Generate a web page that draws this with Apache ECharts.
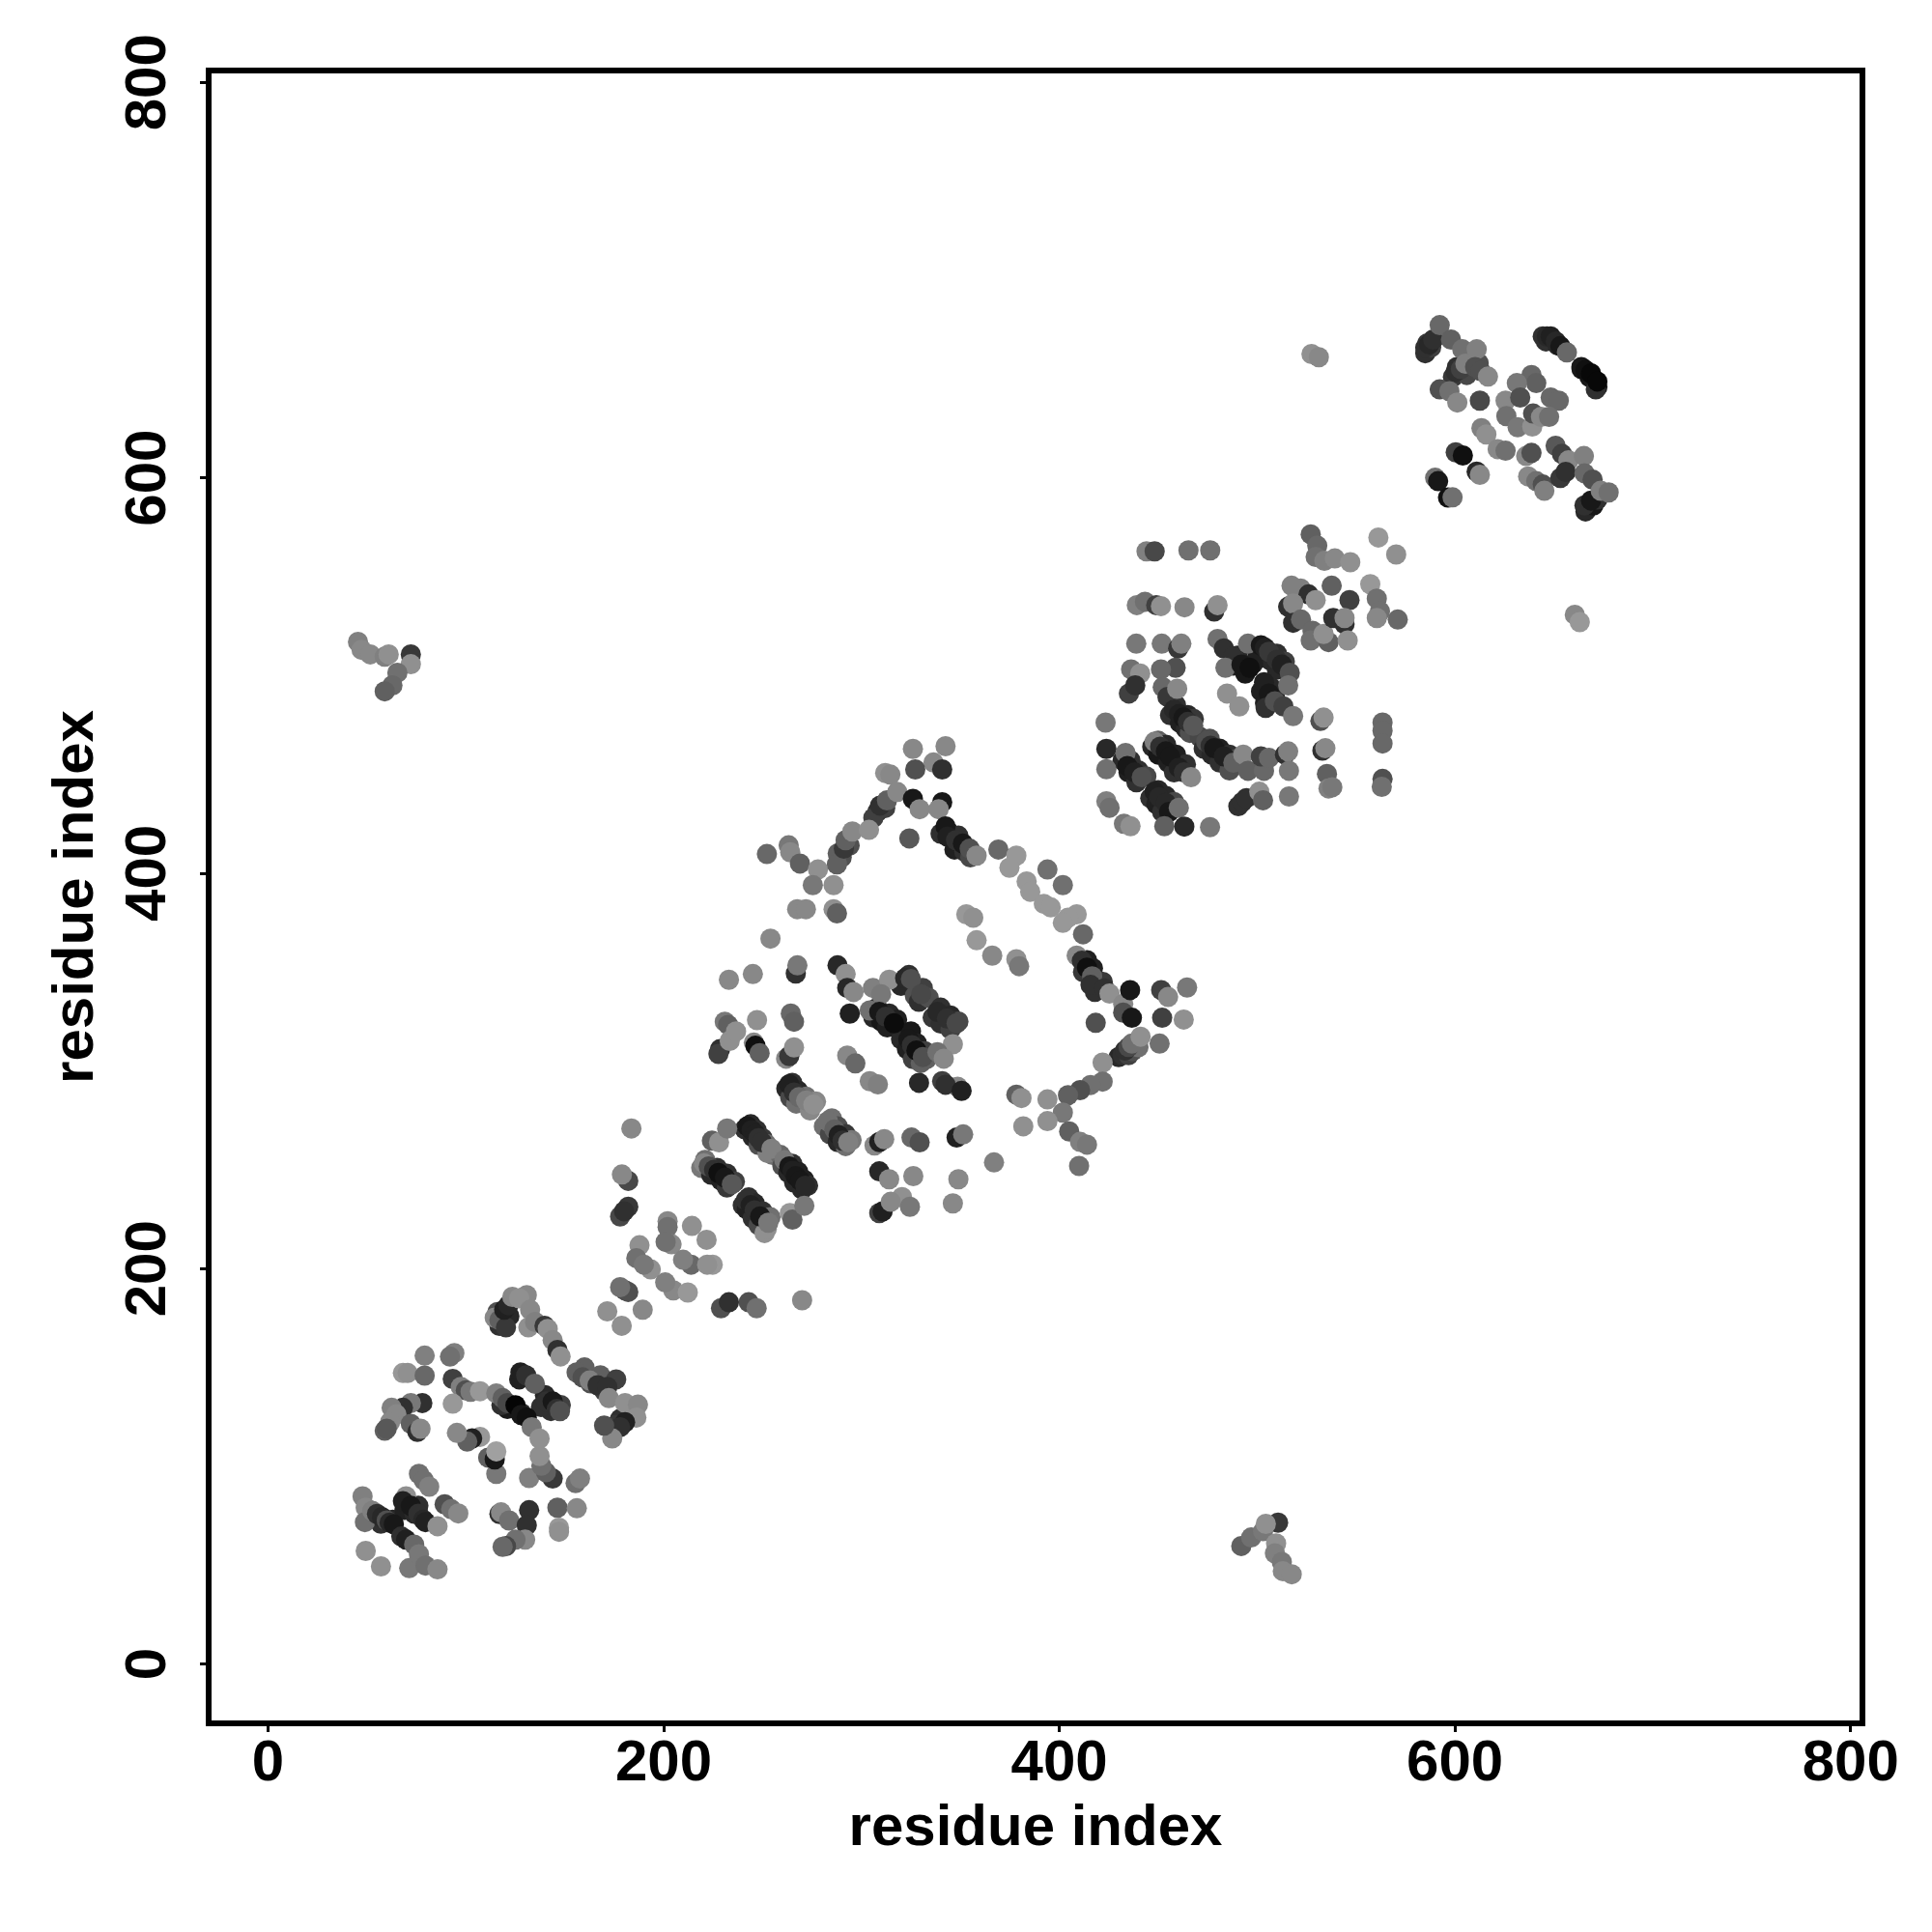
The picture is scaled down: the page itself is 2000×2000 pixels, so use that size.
<!DOCTYPE html>
<html><head><meta charset="utf-8">
<style>html,body{margin:0;background:#fff}#c{width:2000px;height:2000px}</style>
<script src="https://cdn.jsdelivr.net/npm/echarts@6/dist/echarts.min.js"></script></head>
<body><div id="c"></div>
<script>
const tickValues=[0,200,400,600,800];
const axisTitle="residue index";
// each contact: [residue i, residue j, grey level]
const strandEdges=[
[241,270.5,0x30],[244,273,0x28],[247,270,0x30],[245,266.5,0x28],[250,266,0x38],[248,262.5,0x50],[252,263,0x70],[255,257.5,0x70],[252.5,258.5,0x80],[259,257.5,0x68],[260,252,0x50],[265,253,0x30],[263,248.5,0x28],[268,249,0x20],[266,243.5,0x28],[271,245,0x20],[270,240,0x28],[273,242,0x30],
[219,251,0x78],[221,255,0x70],[224,247.5,0x28],[227,251,0x30],[229,244.5,0x20],[232,248,0x30],[232,241,0x38],[236,244,0x40],[240,232,0x30],[243,236,0x30],[242,230,0x20],[246,233,0x28],[245,225.5,0x30],[250,229,0x30],[248,222,0x48],[254,226,0x70],[251,218,0x90],
[262,291,0x28],[265,294,0x30],[264,286.5,0x48],[268,290,0x28],[267,283.5,0x70],[272,287,0x70],[274,280,0x88],[277,284.5,0x88],[281,272,0x70],[285,276,0x70],[284,268,0x48],[288,272,0x50],[288,264,0x28],[292,268,0x38],[292,262,0x70],[295,265,0x78],
[306,327,0x28],[308,332,0x30],[310,325,0x18],[314,329,0x28],[313,322,0x20],[318,326,0x20],[320,316,0x28],[325,320,0x18],[323,311,0x20],[328,314,0x20],[326,306,0x40],[332,310,0x40],[330,304,0x60],[333,306,0x60],
[320,343,0x28],[324,348.5,0x30],[327,338,0x50],[331,342,0x40],[329,335,0x30],[334,337,0x50],[336,327,0x38],[340,332,0x30],[340,324,0x30],[345,328,0x28],[345,321,0x40],[349,325,0x48],
[456,480,0x30],[459,485,0x30],[461,476,0x20],[465,480,0x28],[464,473,0x28],[468,478,0x38],[466,471,0x50],[471,469,0x48],[473,463,0x30],[476,468,0x50],[477,460,0x28],[481,463,0x20],[481,456,0x30],[486,460,0x30],[486,452,0x50],[490,458,0x48],
[432,457,0x28],[436,457,0x30],[435,451,0x20],[440,452,0x30],[439,446,0x30],[444,449,0x48],[447,464,0x28],[450,467,0x60],[450,460,0x18],[454,465,0x28],[455,456,0x20],[459,460,0x20],[458,451,0x30],[464,455,0x30],[446,438,0x30],[450,442,0x28],[449,435,0x20],[454,439,0x28],[452,431,0x30],[458,436,0x48],
[500,512,0x20],[506,508,0x28],[510,511,0x30],[510,503,0x28],[514,507,0x40],[502,492,0x20],[507,494,0x28],[504,486,0x20],[509,489,0x28],[488,505,0x20],[490,510,0x28],[494,501,0x18],[498,506,0x20],
[646,669,0x30],[652,667,0x28],[664,655,0x18],[668,651,0x18],[672,646,0x18],[585,663,0x30],[588,666,0x40],[586,668,0x38],[666,583,0x28],[670,586,0x18],[672,589,0x30],[599,651,0x38],[601,656,0x30],[606,652,0x48],[612,658,0x50],
[414,356,0x20],[417,352,0x20],[412,350,0x38],[419,346,0x28],[422,345,0x38],[418,340,0x30],[344,421,0x18],[340,420,0x30],[347,412,0x20],[352,411,0x30],[349,419,0x30],[355,408,0x48],[308,431,0x30],[306,428,0x40],[312,433,0x40],[290,408,0x50],[288,410,0x60],[294,414,0x50],[430,307,0x28],[432,308,0x30],[435,308,0x40],[437,310,0x50],[440,312,0x70],
[121,129,0x18],[128,127,0x30],[118,131,0x30],[57,71,0x30],[63,73,0x28],[69,78,0x20],[74,76,0x28],[76,80,0x30],[140,136,0x28],[143,128,0x30],[138,130,0x30],[148,131,0x40],[127,144,0x20],[163,142,0x50],[168,146,0x60],[160,150,0x60],[170,138,0x40],[176,144,0x40],[178,124,0x30],[182,125,0x30],[176,121,0x38],[119,175,0x30],[116,178,0x50],[117,171,0x30],[122,176,0x28]
];
const domainA=[
[47.8,84.8,0x80],[49.4,79.1,0x88],[49,71.8,0x70],[52.7,77.5,0x80],[55.1,75.9,0x30],[57.6,74.3,0x28],[60,72.6,0x50],[61.5,71.5,0x28],[63.6,70.7,0x18],
[49.4,57.2,0x90],[57.1,49.4,0x90],[71.4,48.5,0x78],[67.4,64.5,0x30],[69.8,62.9,0x20],[73.9,60.4,0x68],[76.3,55.5,0x78],[79.6,49.8,0x70],[85.7,47.9,0x88],
[69.8,84.8,0x90],[68.2,82.4,0x20],[72.2,80,0x18],[76,76,0x30],[78.5,73,0x28],[79.6,71.8,0x20],[85.7,69.7,0x90],
[76.3,96.2,0x70],[78.7,93,0x70],[81.5,89.7,0x80],[89.3,80.8,0x50],[92.6,78.3,0x70],[96.2,76.2,0x88],
[117,75.9,0x30],[117.8,76.7,0x88],[121.9,72.6,0x70],[132,77.8,0x30],[130.8,70.2,0x30],[130,62.9,0x88],[125.1,62.9,0x70],[120.3,59.6,0x48],[118.6,59.3,0x68],
[146.3,79.1,0x60],[156.1,78.8,0x88],[147.1,69,0x98],[147.1,66.9,0x90],[155.5,91.5,0x70],[157.7,93.8,0x80],[143.9,93.8,0x38],[132,94.1,0x80],[140.5,97,0x60],[138.2,100.3,0x70],[137.3,105.2,0x90],
[115.4,96.2,0x78],[111.3,104.4,0x60],[114.6,103.5,0x18],[115.4,107.6,0xa0],[107.2,114.9,0x98],[103.2,114.1,0x20],[100.7,112.5,0x60],[95.5,116.9,0x88],
[93.4,144.2,0x40],[97.5,140.2,0x80],[100,138.5,0x50],[102.4,137.7,0x78],[107.2,138,0x98],[93.4,131.7,0x98],
[79.2,156,0x80],[94.2,157.3,0x80],[92,155.5,0x70],[68.2,147.2,0x98],[70.6,147.2,0x90],[79.2,145.9,0x68],
[78,132,0x30],[72.2,132,0x78],[68.2,129.6,0x30],[62.5,129.6,0x80],[64.9,126.3,0x88],[61.7,122.3,0x88],[59,118,0x60],[60,119,0x58],[72.2,121.5,0x60],[75.5,117.4,0x30],[77.1,119,0x88],
[115.4,136.9,0x80],[118.6,134.5,0x60],[121,132,0x48],[125.1,130.9,0x05],[128,126,0x18],[130.8,124.7,0x10],[133.3,119.8,0x78],[137.3,114,0x90],
[127.6,147.5,0x20],[130.5,146,0x30],[134.9,141.8,0x60],[140.6,132.8,0x30],[143.9,132.8,0x18],[146,129,0x30],[147.6,127.9,0x50],
[114.6,175.2,0x88],[117,174,0x60],[120.3,170.3,0x38],[119.4,179.2,0x20],[121.5,181.5,0x28],[123.5,185.7,0x88],[130.8,186.6,0x88],[127,185,0x90],[132.5,179.2,0x88],[131.6,170.3,0x90],[135,173,0x80],[139.8,171.1,0x38],[141.4,169.5,0x90],[143.9,163.8,0x88],[146.3,158.9,0x30],[147.9,155.6,0x90],
[156,147.5,0x60],[159,145,0x50],[162.6,143.4,0x80],[166.6,141,0x30],[171.5,140.2,0x30],[172.3,134.5,0x88],[180.5,132,0x90],[187,131.2,0x88],[186.2,124.7,0x90],[180.5,122.3,0x20],[178,119.8,0x30],[174,114.1,0x88],[169.9,120.6,0x50],
[171.5,178.4,0x90],[178.8,171.1,0x90],[180.5,189,0x50],[182.1,188.2,0x50],[178,190.6,0x70],[189.4,179.2,0x88]
];
const domainB=[
[202,224,0x88],[202,221,0x70],[214.3,221.6,0x90],[221.7,214.6,0x90],[187.8,211.8,0x90],[186.2,205.3,0x70],[193.5,199.6,0x90],[190,202,0x78],[204,212.3,0x88],[201,213.5,0x70],[213.9,202,0x68],[209.8,204.5,0x80],[224.8,202,0x98],[222,202,0x90],[204.9,189,0x88],[212.2,187.9,0x98],[200.8,193,0x80],
[182.1,244.4,0x48],[178.9,247.6,0x88],[182.1,231.3,0x38],[178,226.4,0x48],[180,229,0x30],[183.7,270.9,0x88],
[220.4,253.3,0x88],[222.8,251.7,0x50],[225.5,250,0x30],[227.7,248.4,0x10],[231,246,0x18],[234.5,242.7,0x58],
[252.1,220,0x90],[241.5,234.6,0x30],[244,232.1,0x20],[246,229.5,0x30],[248.8,226.4,0x18],[252.9,223.2,0x78],
[242.3,272,0x18],[244.5,270,0x20],[246.4,268,0x20],[248,266,0x30],[249.7,263.9,0x30],[254.5,260.6,0x80],[261,254.9,0x78],[263.5,251.7,0x18],[265.2,249.5,0x20],[266.8,246.8,0x18],[269,244.5,0x18],[271.6,241.9,0x28],
[224.4,264.7,0x60],[228,263.9,0x90],[232.1,270.9,0x78],[263.8,228.1,0x98],[265.1,224.8,0x60],[271.1,231.8,0x78],
[254,366.9,0x88],[233,346.1,0x88],[245.1,349,0x88],[266.8,349.3,0x30],[267.6,353.4,0x78],
[230.9,324.9,0x78],[232.6,323.3,0x60],[228.5,311,0x30],[227.7,308.6,0x40],[233.4,315.2,0x90],[236.6,320,0x90],[245.6,314.3,0x88],[246.4,312.7,0x10],[248.5,309,0x60],[247.2,325.7,0x90],[264.3,329,0x68],[265.9,324.9,0x60],[261.9,306.2,0x88],[263.5,307.5,0x38],[265.9,311.9,0x90],
[263.5,293.2,0x20],[265.9,289.1,0x30],[268.4,286.7,0x68],[272,285,0x80],[275.7,282.9,0x90],[283,274.5,0x70],[286.3,270.4,0x60],[288.5,267.5,0x20],[290.4,264.7,0x30],[293.3,263.9,0x80],
[287.9,353.4,0x28],[292,349,0x90],[292.8,342,0x28],[296,339.9,0x88],[294.1,329,0x20],[305.8,342,0x80],[314,346.1,0x90],[309.9,338.8,0x78],
[304.2,330.6,0x70],[309,329.8,0x18],[312.3,327.4,0x30],[316.4,324.1,0x0c],[323.7,316,0x18],[325.5,313,0x30],[327.8,310.3,0x10],[331,307,0x50],
[322.1,346.9,0x28],[325,346.5,0x50],[330.2,338.8,0x48],[338.4,329.8,0x28],[343.2,326.5,0x30],[348.1,324.1,0x48],[346.2,313.5,0x90],[338.4,309.5,0x70],[341.6,306.2,0x88],
[292.8,307.8,0x88],[296.9,303.8,0x68],[304.2,294.8,0x88],[308.3,293.2,0x80],[348.6,292,0x88],[329.1,294,0x28],[340.8,294.8,0x40],[342.5,293,0x30],[350.6,289.9,0x20],
[306.6,262.3,0x88],[309,264,0x20],[311.5,265.5,0x88],[325.3,266.3,0x68],[329.4,263.9,0x50],[348.1,266.3,0x20],[351.4,267.9,0x78],
[309,249.2,0x28],[314,245.2,0x88],[326.2,246.8,0x88],[349,245.2,0x88],[346.2,233,0x88],[320.5,236.2,0x90],[324.5,231.3,0x78],[309,228.1,0x40],[310.7,228.9,0x20],[314.8,233.8,0x88],
[229,180,0x50],[233,183,0x30],[243,183,0x50],[247,180,0x70],[270,184,0x88]
];
const domainC=[
[326,462.9,0x88],[342.5,464.2,0x88],[336.4,456,0x88],[340.8,452.5,0x30],[327.2,452.5,0x50],[312,450.7,0x90],[314.6,449.9,0x88],
[309.4,434.2,0x30],[312.9,436.8,0x60],[318.1,441.1,0x88],[326,437.6,0x18],[329.4,432.4,0x88],[340.8,435.9,0x18],[339,432.4,0x88],[342.5,423.7,0x18],[343.4,418.5,0x20],[347.8,416.7,0x30],[351.3,415,0x18],[354.7,412.4,0x50],[358.2,408.9,0x88],[324.2,417.6,0x58],
[369.2,412,0x68],[378.3,408.9,0x98],[374.8,402.8,0x98],[383.5,395.8,0x98],[385.3,390.6,0x98],[392.2,384.5,0x98],[395.7,382.7,0x98],[408.8,379.2,0x98],[404.4,377.5,0x98],[401.8,374.9,0x98],[394,401.9,0x70],[401.8,394,0x70],[412,369.1,0x68],
[353,379.2,0x98],[356.5,377.5,0x90],[358.2,366.1,0x98],[366.1,358.3,0x88],[378.3,356.5,0x90],[379.7,353,0x78],
[408.8,358.3,0x88],[411.4,355.7,0x30],[414,352.2,0x10],[416.6,347.8,0x60],[415.8,343.5,0x30],[422.8,341.7,0x30],[425.4,339.1,0x90],[432.3,333.9,0x88],[435.8,340.9,0x18],[432.3,329.5,0x50],[436.7,326.9,0x18],[418.4,324.3,0x50],
[451.5,340.9,0x40],[464.6,342.2,0x78],[455,337.4,0x88],[452,326.9,0x40],[462.9,326,0x90],[450.7,313.8,0x70],[433.2,310.3,0x30],[435,312.1,0x48],[436.7,313.8,0x70],[441.1,317.3,0x90],
[421.9,304.2,0x90],[421.9,294.6,0x70],[415.8,292.9,0x70],[410.5,290.3,0x50],[404.4,287.7,0x60],[401.8,278.9,0x78],[394,285.6,0x90],[394,274.6,0x90],[381.8,272,0x90],[378.3,288,0x60],[380.9,286.3,0x90],[405,269.4,0x60],[410.5,264.1,0x80],[414,262.7,0x78],[410,251.9,0x70],[367,253.7,0x80],
[252.2,409.7,0x68],[263.2,414.1,0x78],[264,410.6,0x88],[268.9,404.9,0x60],[278,401.9,0x90],[285.9,394,0x90],[275.4,394,0x78],[267.5,381.8,0x88],[271.9,381.8,0x88],[285.9,381.8,0x90],[287.6,379.7,0x60],[287.6,404.5,0x60],[291.1,412.4,0x38],[292,416.7,0x60],[295.4,421.1,0x88],[303.8,421.9,0x90]
];
const domainD=[
[444.1,562.8,0x80],[448.2,562.8,0x48],[465.3,563.3,0x70],[476.3,563.3,0x70],
[439.2,535.6,0x80],[443.3,537.3,0x70],[449,535.6,0x40],[451.4,535.1,0x90],[463.3,534.5,0x88],[478.3,532.4,0x30],[480,535.6,0x90],
[438.9,516.1,0x78],[451.8,516.1,0x78],[460.1,513.7,0x38],[461.7,516.1,0x80],[458.8,503.9,0x50],[436.3,503.1,0x70],[440.9,501,0x90],[435.2,490.9,0x40],[438.4,495,0x30],[451.4,503.1,0x68],[452.3,494.1,0x68],[454.7,489.2,0x38],[459.6,493.3,0x88],
[458,482.7,0x28],[460.5,480.5,0x20],[462.8,478.7,0x18],[465,476.5,0x30],[467.7,474.6,0x58],[474.2,466.5,0x50],[476.5,464.5,0x30],[478.3,463.2,0x18],[483.2,459.1,0x20],[488,455.9,0x60],[493,460,0x88],[495.4,451.8,0x60],[503.5,451.8,0x68],[501.9,459.1,0x40],[506,458.3,0x68],[514.1,460,0x30],[515.7,461.6,0x80],[516.1,451.8,0x78],[516.1,438.8,0x78],
[423.4,476.2,0x78],[423.8,462.9,0x28],[423.8,452.6,0x70],[433.5,460.8,0x70],[434.4,454.2,0x18],[438,451,0x20],[441.7,448.6,0x50],
[448.2,466.5,0x80],[451,464,0x30],[453.9,461.6,0x18],[456,459,0x18],[460.4,453.4,0x20],[463,451,0x30],[466.6,448.6,0x88],
[448.2,441.2,0x20],[450.5,438.5,0x28],[453.9,435.5,0x28],[455.5,431,0x18],[460.4,433.1,0x70],
[423.8,436.4,0x80],[425.4,433.1,0x70],[432.7,425,0x78],[436,423.8,0x90],[453.1,423.8,0x60],[463.2,423.6,0x28],[476.2,423.3,0x78],
[490.5,433.9,0x30],[492.5,436,0x30],[494.6,438,0x30],[501.1,441.2,0x90],[503,436.9,0x60],
[532,477,0x50],[533.6,478.7,0x90],[533,462,0x30],[534.5,463.2,0x88],[535.3,450.2,0x60],[536.1,442.9,0x80],[538,443.5,0x78],[563.4,476.2,0x68],[563.4,472,0x68],[563.4,465.6,0x68],[563.4,447.7,0x50],[563,443.7,0x70],
[484.8,490.9,0x90],[491,484.4,0x90],
[480,518.5,0x70],[483.2,513.7,0x30],[488,509.6,0x30],[484,503.9,0x70],[492.1,505.5,0x18],[496.2,503.9,0x10],[495.4,516.1,0x70],[501.9,515.3,0x18],[504,514,0x20],[506,512,0x38],[510,508,0x30],[512.5,505.5,0x20],[516.5,501.4,0x50],[515.7,495,0x70],[503.5,496.6,0x20],[506,490.9,0x18],[504.3,483.6,0x30],[509,487,0x50],[513.3,484.4,0x40],[518.2,479.5,0x78]
];
const domainE=[
[527.1,571.4,0x60],[530.4,565.7,0x68],[529.6,560,0x70],[534,558,0x80],[539.3,559.2,0x88],[547.1,557.3,0x90],[561.3,569.8,0x98],[570.3,561.2,0x90],
[517.4,545.4,0x80],[522,544,0x80],[526,541,0x30],[529.6,538.1,0x90],[537.7,545.4,0x60],[546.7,538.1,0x40],[557.2,546.2,0x98],[560.5,538.9,0x70],[562.1,532.4,0x70],[560.5,529.1,0x88],[571.1,528.3,0x68],[515.7,534.8,0x30],[518.2,536.4,0x88],[518.2,526.7,0x30],[522.2,528.3,0x68],[528,522.6,0x68],[527.1,517.7,0x70],[536.1,516.9,0x60],[533.6,521,0x90],[538.5,529.1,0x30],[544.2,526,0x30],[544.2,529.1,0x88],[545.8,517.7,0x90],
[527.5,662.6,0x90],[531.2,661,0x88],[660.6,530.7,0x88],[663.1,527,0x98],
[585,665.8,0x30],[587,667.5,0x28],[589,669.9,0x30],[592.3,677.2,0x68],[598,669.9,0x60],[603.7,665,0x70],[611,665,0x80],
[600.4,653.6,0x30],[603,655,0x40],[605.3,657.7,0x80],[610.2,656,0x50],[613,654,0x50],[616.7,651.2,0x88],
[592.3,644.7,0x50],[597.2,643.8,0x70],[601.2,638.1,0x88],[612.6,639,0x48],
[638.7,652,0x68],[641.1,647.9,0x60],[631.3,647.9,0x78],[625.6,639,0x88],[633,640.6,0x50],[648.4,640.6,0x68],[652.5,639,0x68],[626,631.2,0x70],[631.7,625.6,0x78],[639.1,625.9,0x90],[639.5,632.5,0x50],[643.5,630.8,0x88],[647.6,630.8,0x70],
[613.4,625.1,0x80],[615.9,621.9,0x90],[621.6,614.5,0x88],[625.6,613.7,0x70],[636,611,0x88],[638.7,612.6,0x50],
[600.4,612.9,0x40],[604,611.3,0x10],[611,603.1,0x28],[612.6,601.5,0x88],[590,600,0x70],[591.5,598.3,0x18],[596.5,590,0x10],[598.8,590.1,0x70],
[637,600.7,0x88],[641.1,598.3,0x70],[644.4,596.6,0x50],[645.2,593.4,0x80],
[650.9,616.2,0x58],[654.1,612.1,0x40],[657.4,608.8,0x88],[665.2,611,0x80],[653.3,599.9,0x38],[656,603,0x30],[665.5,602.3,0x68],[669.6,599.1,0x50],[665.5,586,0x30],[668.8,588.5,0x18],[673.7,593.4,0x80],[677.7,592.6,0x70],
[644.4,671.5,0x30],[646.5,671.5,0x28],[648.4,671.5,0x20],[651,669,0x28],[653.3,666.6,0x18],[656.6,663.4,0x68],[663.9,656,0x18],[666,654.5,0x10],[668.8,652.8,0x08],[671.2,644.7,0x30],[672,648.7,0x08]
];
const offDiagonal=[
[45.5,517,0x80],[47.3,513,0x88],[51.7,510.7,0x88],[59,509.5,0x80],[61,510.7,0x90],[72.2,510.7,0x38],[72.2,505.7,0x90],[65.4,501.4,0x70],[62.9,495,0x68],[59,492,0x60],
[492,59.7,0x60],[497,64,0x70],[503,67.2,0x78],[510.6,71.5,0x38],[504.4,70.9,0x90],[509.6,61,0x90],[509,56,0x80],[512.5,51.6,0x78],[513,47,0x88],[517.5,45.4,0x88]
];
const contacts=[...strandEdges,...domainA,...domainB,...domainC,...domainD,...domainE,...offDiagonal];
const font='"Liberation Sans"';
function axis(rot,gap,margin){return{
 type:'value',min:-30,max:806,name:axisTitle,nameLocation:'middle',nameGap:gap,
 nameTextStyle:{fontFamily:font,fontWeight:'bold',fontSize:60,color:'#000'},
 splitLine:{show:false},axisLine:{show:false,onZero:false},
 axisTick:{show:true,length:9,lineStyle:{color:'#000',width:3},customValues:tickValues},
 axisLabel:{rotate:rot,margin:margin,fontFamily:font,fontWeight:'bold',fontSize:60,color:'#000',customValues:tickValues,showMinLabel:true,showMaxLabel:true,hideOverlap:false}
};}
const chart=echarts.init(document.getElementById('c'),null,{renderer:'canvas'});
chart.setOption({animation:false,backgroundColor:'#fff',
 grid:{left:216,right:72,top:73,bottom:216,show:true,borderColor:'#000',borderWidth:6,backgroundColor:'transparent'},
 xAxis:axis(0,79,12),yAxis:axis(90,107,32),
 series:[{type:'scatter',data:contacts,encode:{x:0,y:1},symbolSize:21,silent:true,clip:false,
  itemStyle:{opacity:1,color:p=>{const g=p.value[2];return 'rgb('+g+','+g+','+g+')';}}}]
});
</script></body></html>
